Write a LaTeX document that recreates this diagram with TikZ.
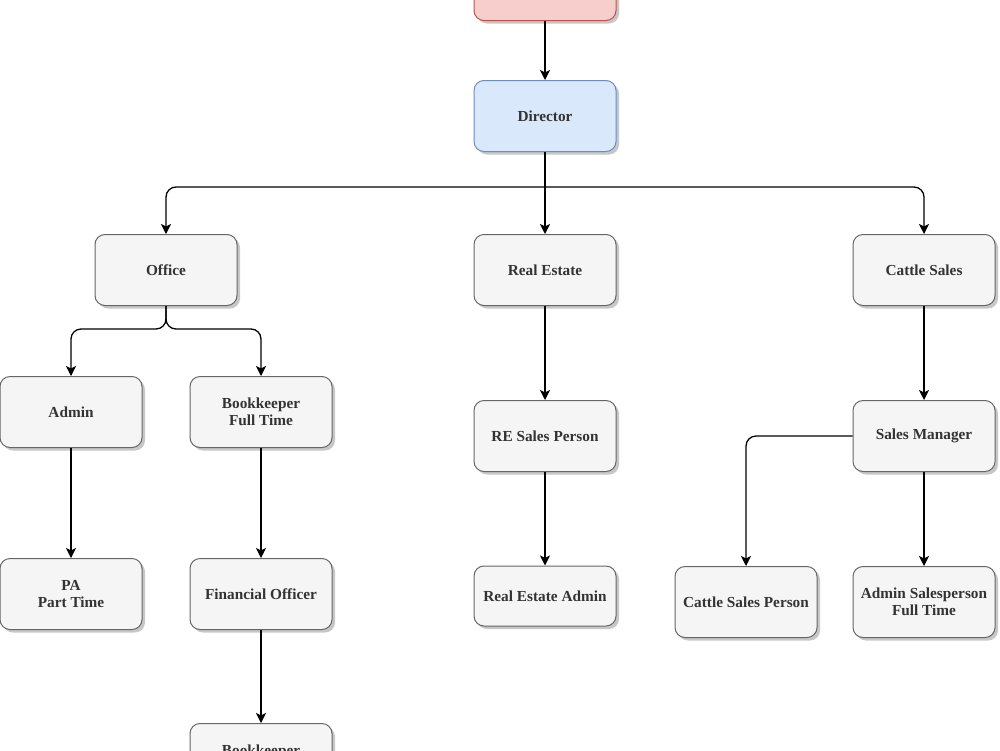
\documentclass[tikz,border=0pt]{standalone}
\usepackage{fontspec}
\setmainfont{Liberation Serif}
\usetikzlibrary{shadows,arrows.meta}
\definecolor{boxfill}{HTML}{F5F5F5}
\definecolor{boxline}{HTML}{666666}
\definecolor{txt}{HTML}{333333}
\definecolor{bluefill}{HTML}{DAE8FC}
\definecolor{blueline}{HTML}{6C8EBF}
\definecolor{redfill}{HTML}{F8CECC}
\definecolor{redline}{HTML}{B85450}
\tikzset{
  orgbox/.style={draw=boxline, fill=boxfill, line width=1pt, rounded corners=10pt,
    minimum width=142pt, minimum height=71pt, align=center, text=txt,
    font=\fontsize{15.3}{17.5}\selectfont\bfseries,
    drop shadow={shadow xshift=3pt, shadow yshift=-3pt, fill=black, opacity=0.22}},
  bluebox/.style={orgbox, draw=blueline, fill=bluefill},
  redbox/.style={orgbox, draw=redline, fill=redfill},
  link/.style={draw=black, line width=1.3pt, -{Stealth[length=10pt,width=10pt,inset=2.5pt]}},
  rlink/.style={link, rounded corners=10pt}
}
\begin{document}
\begin{tikzpicture}[x=1pt,y=-1pt]
\clip (0,0) rectangle (1000,750);
\fill[white] (0,0) rectangle (1000,750);
\node[redbox] (top) at (545,-15) {};
\node[bluebox] (dir) at (545,116) {Director};
\node[orgbox] (office) at (166,270) {Office};
\node[orgbox] (realestate) at (545,270) {Real Estate};
\node[orgbox] (cattle) at (924,270) {Cattle Sales};
\node[orgbox] (admin) at (71,412) {Admin};
\node[orgbox] (bookft) at (261,412) {Bookkeeper\\Full Time};
\node[orgbox] (pa) at (71,594) {PA\\Part Time};
\node[orgbox] (fin) at (261,594) {Financial Officer};
\node[orgbox] (book2) at (261,759) {Bookkeeper\\\phantom{Part Time}};
\node[orgbox] (resales) at (545,436) {RE Sales Person};
\node[orgbox, minimum height=60pt] (readmin) at (545,596) {Real Estate Admin};
\node[orgbox] (salesmgr) at (924,436) {Sales Manager};
\node[orgbox] (cattleperson) at (746,602) {Cattle Sales Person};
\node[orgbox] (adminsales) at (924,602) {Admin Salesperson\\Full Time};

\coordinate (fork) at (545,187);
\coordinate (ofork) at (166,329);

\draw[link] (top) -- (dir);
\draw[link] (dir.south) -- (realestate.north);
\draw[rlink] (fork) -| (office.north);
\draw[rlink] (fork) -| (cattle.north);
\draw[rlink] (office.south) -- (ofork) -| (admin.north);
\draw[rlink] (office.south) -- (ofork) -| (bookft.north);
\draw[link] (admin) -- (pa);
\draw[link] (bookft) -- (fin);
\draw[link] (fin) -- (book2);
\draw[link] (realestate) -- (resales);
\draw[link] (resales) -- (readmin);
\draw[link] (cattle) -- (salesmgr);
\draw[link] (salesmgr) -- (adminsales);
\draw[rlink] (salesmgr.west) -| (cattleperson.north);
\end{tikzpicture}
\end{document}
